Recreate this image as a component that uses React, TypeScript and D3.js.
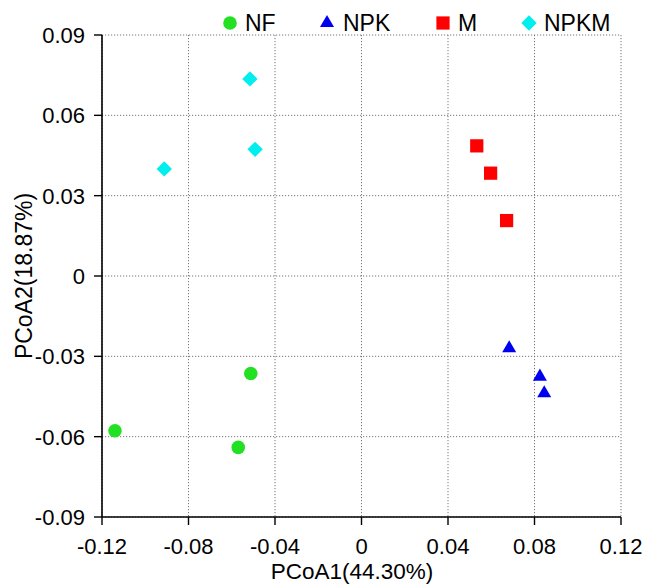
import React from "react";
import * as d3 from "d3";

const groups = ["NF", "NPK", "M", "NPKM"];
const colors = ["#22e022", "#0000f0", "#ff0000", "#00eeee"];
const shapes = ["circle", "triangle", "square", "diamond"];

const nfX = [-0.114, -0.0512, -0.057];
const nfY = [-0.0578, -0.0364, -0.064];
const npkX = [0.0683, 0.0825, 0.0845];
const npkY = [-0.027, -0.0376, -0.0438];
const mX = [0.0533, 0.0597, 0.0671];
const mY = [0.0486, 0.0384, 0.0207];
const npkmX = [-0.0516, -0.0492, -0.0912];
const npkmY = [0.0736, 0.0473, 0.04];

const xTicks = [-0.12, -0.08, -0.04, 0, 0.04, 0.08, 0.12];
const yTicks = [-0.09, -0.06, -0.03, 0, 0.03, 0.06, 0.09];
const xTitle = "PCoA1(44.30%)";
const yTitle = "PCoA2(18.87%)";

const W = 646;
const H = 584;
const margin = { left: 102, right: 25, top: 35, bottom: 67 };

const fmt = (v: number) => {
  if (v === 0) return "0";
  const s = Math.abs(v).toFixed(2);
  return (v < 0 ? "-" : "") + s;
};

function symbolPath(shape: string, size: number) {
  const map: Record<string, d3.SymbolType> = {
    circle: d3.symbolCircle,
    triangle: d3.symbolTriangle,
    square: d3.symbolSquare,
    diamond: d3.symbolSquare,
  };
  return d3.symbol().type(map[shape]).size(size)() as string;
}

const sizes: Record<string, number> = { circle: 145, triangle: 85, square: 175, diamond: 118 };

export default function App() {
  const x = d3.scaleLinear().domain([-0.12, 0.12]).range([margin.left, W - margin.right]);
  const y = d3.scaleLinear().domain([-0.09, 0.09]).range([H - margin.bottom, margin.top]);
  const series = [
    { xs: nfX, ys: nfY },
    { xs: npkX, ys: npkY },
    { xs: mX, ys: mY },
    { xs: npkmX, ys: npkmY },
  ];
  const font = "'Liberation Sans', Arial, Helvetica, sans-serif";
  const x0 = margin.left;
  const x1 = W - margin.right;
  const y0 = H - margin.bottom;
  const y1 = margin.top;
  const legendX = [230, 327, 443, 529];
  const legendTextX = [245, 343, 458, 544];
  const rot = (shape: string) => (shape === "diamond" ? " rotate(45)" : "");

  return (
    <svg width={W} height={H} style={{ position: "absolute", left: 0, top: 0, background: "#fff" }} fontFamily={font}>
      {/* grid */}
      {xTicks.map((t, i) => (
        <line key={"gx" + i} x1={x(t)} x2={x(t)} y1={y1} y2={y0} stroke="#777" strokeWidth={1} strokeDasharray="1.2,1.8" />
      ))}
      {yTicks.map((t, i) => (
        <line key={"gy" + i} x1={x0} x2={x1} y1={y(t)} y2={y(t)} stroke="#777" strokeWidth={1} strokeDasharray="1.2,1.8" />
      ))}
      {/* axes */}
      <line x1={x0} x2={x0} y1={y1} y2={y0} stroke="#000" strokeWidth={1.6} />
      <line x1={x0} x2={x1} y1={y0} y2={y0} stroke="#000" strokeWidth={1.6} />
      {xTicks.map((t, i) => (
        <g key={"tx" + i}>
          <line x1={x(t)} x2={x(t)} y1={y0} y2={y0 + 8} stroke="#000" strokeWidth={1.4} />
          <text x={x(t)} y={554} fontSize={22} textAnchor="middle" fill="#000">{fmt(t)}</text>
        </g>
      ))}
      {yTicks.map((t, i) => (
        <g key={"ty" + i}>
          <line x1={x0 - 8} x2={x0} y1={y(t)} y2={y(t)} stroke="#000" strokeWidth={1.4} />
          <text x={85} y={y(t) + 8} fontSize={22} textAnchor="end" fill="#000">{fmt(t)}</text>
        </g>
      ))}
      <text x={352} y={579} fontSize={22.5} textAnchor="middle" fill="#000">{xTitle}</text>
      <text transform={`translate(32,${(y0 + y1) / 2}) rotate(-90)`} fontSize={23} textAnchor="middle" fill="#000">{yTitle}</text>
      {/* points */}
      {series.map((s, gi) =>
        s.xs.map((xv, j) => (
          <path key={gi + "-" + j} d={symbolPath(shapes[gi], sizes[shapes[gi]])} transform={`translate(${x(xv)},${y(s.ys[j])})${rot(shapes[gi])}`} fill={colors[gi]} />
        ))
      )}
      {/* legend */}
      {groups.map((g, i) => (
        <g key={"lg" + i}>
          <path d={symbolPath(shapes[i], sizes[shapes[i]])} transform={`translate(${legendX[i]},${23})${rot(shapes[i])}`} fill={colors[i]} />
          <text x={legendTextX[i]} y={31} fontSize={23} fill="#000">{g}</text>
        </g>
      ))}
    </svg>
  );
}
